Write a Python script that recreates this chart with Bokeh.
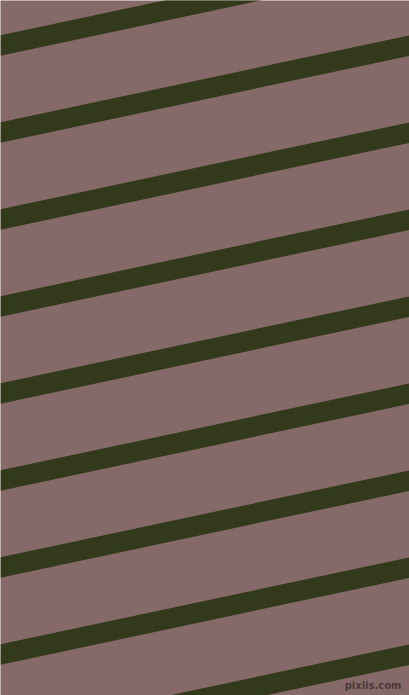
from bokeh.plotting import figure
from bokeh.models import Range1d
from bokeh.core.properties import value
from bokeh.embed import file_html
from bokeh.resources import INLINE

# stripe centre heights where each stripe meets the left edge (px from top)
stripe_offsets = [-42, 45, 132, 219, 306, 393, 480, 567, 654, 741]
slope = -0.2126          # rise per px to the right (about 12 degrees)
stripe_height = 20.5     # vertical thickness of a stripe
background = "#866a6a"
stripe_color = "#333a1b"

W, H = 409, 695

p = figure(width=W, height=H, x_range=Range1d(0, W), y_range=Range1d(H, 0),
           output_backend="svg", toolbar_location=None,
           min_border=0, background_fill_color=background,
           border_fill_color=background)
p.axis.visible = False
p.grid.visible = False
p.outline_line_color = None

xs, ys = [], []
for b in stripe_offsets:
    top_l = b - stripe_height / 2
    bot_l = b + stripe_height / 2
    xs.append([0, W, W, 0])
    ys.append([top_l, top_l + slope * W, bot_l + slope * W, bot_l])
p.patches(xs, ys, fill_color=stripe_color, line_color=None)

p.text(x=[401], y=[690], text=["pixlis.com"], text_align="right",
       text_baseline="bottom", text_font=value("DejaVu Sans"),
       text_font_size="10px", text_font_style="bold",
       text_color="#3e3030", text_alpha=0.85)

open("out.html", "w").write(file_html(p, INLINE))
